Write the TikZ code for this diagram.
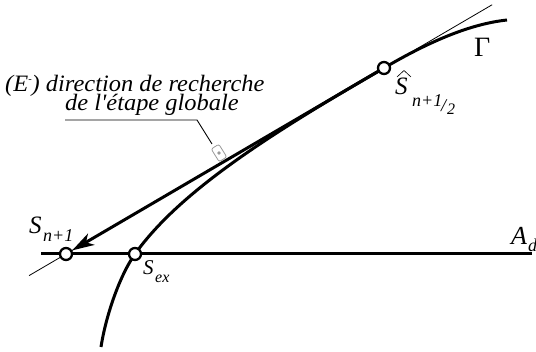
\documentclass[tikz,border=0pt]{standalone}
\usepackage{fontspec}
\setmainfont{Liberation Serif}[ItalicFont=Liberation Serif Italic]
\newfontfamily\annfont{Liberation Serif Italic}[FakeStretch=1.04]
\usetikzlibrary{arrows.meta,calc}
\pgfdeclarelayer{bg}
\pgfsetlayers{bg,main}
\begin{document}
\begin{tikzpicture}[x=1pt,y=-1pt,
  thickline/.style={line width=3pt},
  thinline/.style={line width=0.8pt},
  ptc/.style={circle,draw,fill=white,line width=2.3pt,inner sep=0pt,minimum size=12pt},
  lbl/.style={inner sep=0pt,anchor=base west},
  big/.style={font=\fontsize{25}{25}\selectfont\itshape},
  small/.style={font=\fontsize{18}{18}\selectfont\itshape},
  txt/.style={font=\fontsize{23.5}{19}\annfont}]
\useasboundingbox (0,0) rectangle (536,352);
% points
\node[ptc] (S1) at (66,254) {};
\node[ptc] (Sex) at (135,254) {};
\node[ptc] (Sh) at (384,68) {};
\coordinate (Al) at (41,254);
\coordinate (Ar) at (532,254);
\coordinate (Gb) at (101,347);
\coordinate (Ge) at (507,20);
\begin{pgfonlayer}{bg}
  \draw[thickline] (Al) -- (Ar);
  \draw[thinline] ($(S1.center)!-0.116!(Sh.center)$) -- ($(Sh.center)!-0.34!(S1.center)$);
  \draw[thickline] (Gb) .. controls (106,315) and (120,275) .. (Sex.center)
     .. controls (180,191) and (270,134) .. (Sh.center)
     .. controls (429,41.6) and (470,24) .. (Ge);
\end{pgfonlayer}
\draw[thickline,-{Stealth[length=22pt,width=13pt,inset=6pt]}] (Sh) -- (S1);
% labels
\node[lbl,font=\fontsize{28}{28}\selectfont] (G) at (474,57) {Γ};
\node[lbl,big] (Sh1) at (395,95) {S};
\coordinate (ha) at (397,77);
\coordinate (hb) at (404,70.5);
\coordinate (hc) at (411,77);
\draw[line width=0.6pt] (ha) -- (hb) -- (hc);
\node[lbl,small] (Sh2) at (412,107) {n+1};
\node[lbl,small] (Sh3) at (441,112) {/};
\node[lbl,font=\fontsize{16}{16}\selectfont\itshape] (Sh4) at (447,115) {2};
\node[lbl,big] (Sn1) at (29,234) {S};
\node[lbl,small] (Sn2) at (43,242) {n+1};
\node[lbl,font=\fontsize{21}{21}\selectfont\itshape] (Se1) at (143,275) {S};
\node[lbl,font=\fontsize{16}{16}\selectfont\itshape] (Se2) at (155,283) {ex};
\node[lbl,font=\fontsize{26}{26}\selectfont\itshape] (A1) at (511,245) {A};
\node[lbl,small] (A2) at (528,252) {d};
% annotation
\node[lbl,txt,align=left] (t1) at (5,111) {(E\raisebox{9pt}{\fontsize{10}{10}\selectfont -}) direction de recherche\\[-3pt]\hspace*{60pt}de l\char"0027\'etape globale};
\coordinate (u1) at (65,120);
\coordinate (u2) at (197,120);
\coordinate (u3) at (212,144);
\draw[line width=0.9pt] (u1) -- (u2) -- (u3);
\node[draw=gray!80,fill=white,rounded corners=2pt,line width=0.8pt,minimum width=15pt,minimum height=9pt,inner sep=0pt,rotate=-58] (hand) at (219,153) {};
\fill[gray!80] (hand.center) circle (1.8pt);
\end{tikzpicture}
\end{document}
